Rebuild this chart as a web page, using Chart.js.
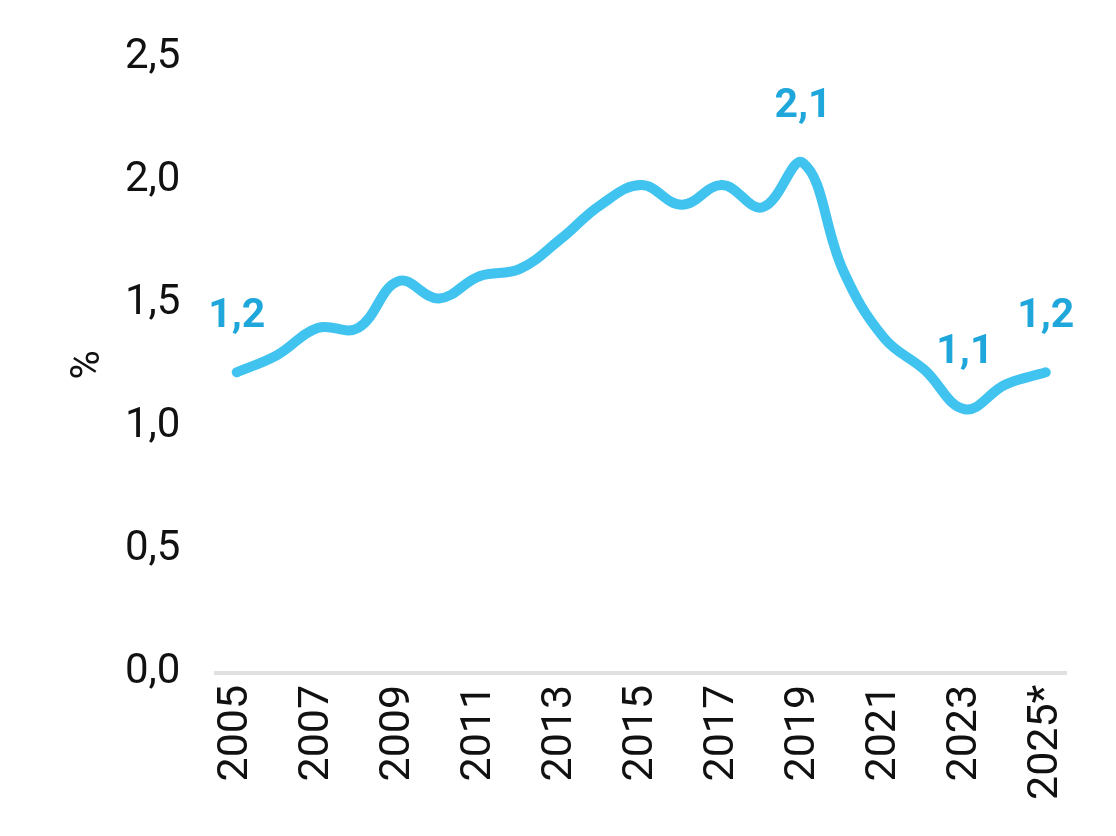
<!DOCTYPE html>
<html>
<head>
<meta charset="utf-8">
<script src="https://cdn.jsdelivr.net/npm/chart.js@4"></script>
<style>
  html, body { margin: 0; padding: 0; background: #fff; }
  #wrap { width: 1116px; height: 836px; }
</style>
</head>
<body>
<div id="wrap"><canvas id="Chart1"></canvas></div>
<script>
// share in %, 2005 - 2025*
let years = ["2005","2006","2007","2008","2009","2010","2011","2012","2013","2014","2015",
             "2016","2017","2018","2019","2020","2021","2022","2023","2024","2025*"];
let values = [1.22, 1.29, 1.40, 1.40, 1.59, 1.52, 1.61, 1.64, 1.76, 1.90, 1.98,
              1.90, 1.98, 1.89, 2.07, 1.63, 1.36, 1.23, 1.07, 1.17, 1.22];
let labelYears = ["2005", "2019", "2023", "2025*"];
let yTicks = [0, 0.5, 1, 1.5, 2, 2.5];

const fmt = v => v.toFixed(1).replace('.', ',');

// value labels above selected points
const pointLabels = {
  id: 'pointLabels',
  afterDatasetsDraw(chart) {
    const ctx = chart.ctx;
    const meta = chart.getDatasetMeta(0);
    ctx.save();
    ctx.font = "bold 41px Roboto";
    ctx.fillStyle = "#1fa7dc";
    ctx.textAlign = "center";
    ctx.textBaseline = "middle";
    labelYears.forEach(y => {
      const i = years.indexOf(y);
      const pt = meta.data[i];
      ctx.fillText(fmt(values[i]), pt.x, pt.y - 56);
    });
    ctx.restore();
  }
};

let data = {
  labels: years,
  datasets: [{
    data: values,
    borderColor: "#40c3ee",
    borderWidth: 10,
    borderCapStyle: 'round',
    borderJoinStyle: 'round',
    tension: 0.4,
    pointRadius: 0,
    fill: false
  }]
};

let config = {
  type: 'line',
  data,
  options: {
    responsive: true,
    maintainAspectRatio: false,
    animation: false,
    layout: { padding: { top: 12, right: 50, left: 55, bottom: 24 } },
    plugins: {
      legend: { display: false },
      tooltip: { enabled: false }
    },
    scales: {
      x: {
        offset: true,
        grid: { display: false, drawTicks: false },
        border: { display: true, color: "#e0e0e0", width: 4 },
        ticks: {
          autoSkip: false,
          maxRotation: 90,
          minRotation: 90,
          padding: 12,
          color: "#111",
          font: { family: "Roboto", size: 43 },
          callback: function(v, i) { return i % 2 === 0 ? years[i] : ''; }
        }
      },
      y: {
        min: 0,
        max: 2.5,
        afterBuildTicks: axis => { axis.ticks = yTicks.map(v => ({ value: v })); },
        grid: { display: false, drawTicks: false },
        border: { display: false },
        title: {
          display: true,
          text: "%",
          color: "#111",
          font: { family: "Roboto", size: 40, lineHeight: 1 },
          padding: { top: 14, bottom: -20 }
        },
        ticks: {
          padding: 36,
          color: "#111",
          font: { family: "Roboto", size: 42, lineHeight: 1 },
          callback: v => fmt(v)
        }
      }
    }
  },
  plugins: [pointLabels]
};

const myChart = new Chart("Chart1", config);
</script>
</body>
</html>
